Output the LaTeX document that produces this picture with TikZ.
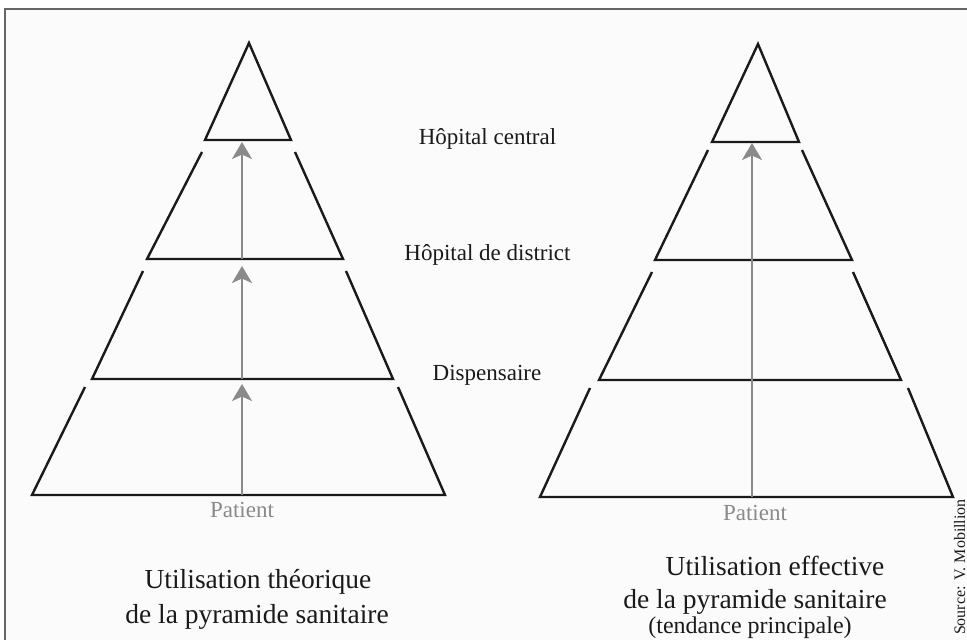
\documentclass[tikz,border=0pt]{standalone}
\usepackage{fontspec}
\setmainfont{Liberation Serif}
\usetikzlibrary{arrows.meta}
\definecolor{framegray}{HTML}{666666}
\definecolor{paper}{HTML}{FBFBFB}
\definecolor{arrowgray}{HTML}{8A8A8A}
\definecolor{ink}{HTML}{1A1A1A}
\tikzset{
  level/.style={draw=ink, line width=2.4pt, line join=miter},
  up/.style={draw=arrowgray, line width=2.2pt, -{Stealth[length=17pt,width=20pt,inset=4.5pt]}},
  lbl/.style={inner sep=0pt, anchor=base, text=ink, font=\fontsize{23}{26}\selectfont},
  pat/.style={inner sep=0pt, anchor=base, text=arrowgray, font=\fontsize{23}{26}\selectfont},
  ttl/.style={inner sep=0pt, anchor=base, text=ink, font=\fontsize{27.5}{32}\selectfont},
  sub/.style={inner sep=0pt, anchor=base, text=ink, font=\fontsize{24}{28}\selectfont},
}
\begin{document}
\begin{tikzpicture}[x=1pt,y=-1pt]
\useasboundingbox (0,0) rectangle (967,640);
\clip (0,0) rectangle (967,640);
\fill[white] (0,0) rectangle (967,640);
\draw[draw=framegray, fill=paper, line width=2.2pt] (5,9) rectangle (990,670);

% left pyramid
\draw[level] (249,43) -- (291,140) -- (205,140) -- cycle;
\draw[level] (202,152) -- (147,259) -- (343,259) -- (295,152);
\draw[level] (143,271) -- (92,379) -- (393,379) -- (346,271);
\draw[level] (85,387) -- (32,495) -- (445,495) -- (398,387);

\coordinate (L0) at (242,495);
\coordinate (L1a) at (242,384);
\coordinate (L1) at (242,379);
\coordinate (L2a) at (242,266);
\coordinate (L2) at (242,259);
\coordinate (L3a) at (242,142);
\draw[up] (L0) -- (L1a);
\draw[up] (L1) -- (L2a);
\draw[up] (L2) -- (L3a);

% right pyramid
\draw[level] (758,44) -- (799,142) -- (712,142) -- cycle;
\draw[level] (708,150) -- (655,260) -- (852,260) -- (802,150);
\draw[level] (652,272) -- (599,380) -- (901,380) -- (853,272);
\draw[level] (590,388) -- (540,497) -- (953,497) -- (908,388);

\coordinate (R0) at (752,497);
\coordinate (R3a) at (752,143);
\draw[up] (R0) -- (R3a);

% labels
\node[lbl] (hc) at (487.5,144) {Hôpital central};
\node[lbl] (hd) at (487.5,260) {Hôpital de district};
\node[lbl] (dp) at (487,380) {Dispensaire};
\node[pat] (pl) at (242,517) {Patient};
\node[pat] (pr) at (755,520) {Patient};

\node[ttl] (t1a) at (258,588) {Utilisation théorique};
\node[ttl] (t1b) at (257,623) {de la pyramide sanitaire};
\node[ttl] (t2a) at (775,575) {Utilisation effective};
\node[ttl] (t2b) at (755,608) {de la pyramide sanitaire};
\node[sub] (t2c) at (750,633) {(tendance principale)};

\node[inner sep=0pt, anchor=base east, rotate=90, text=ink, font=\fontsize{16}{19}\selectfont] (src) at (965,499) {Source: V. Mobillion};
\end{tikzpicture}
\end{document}
